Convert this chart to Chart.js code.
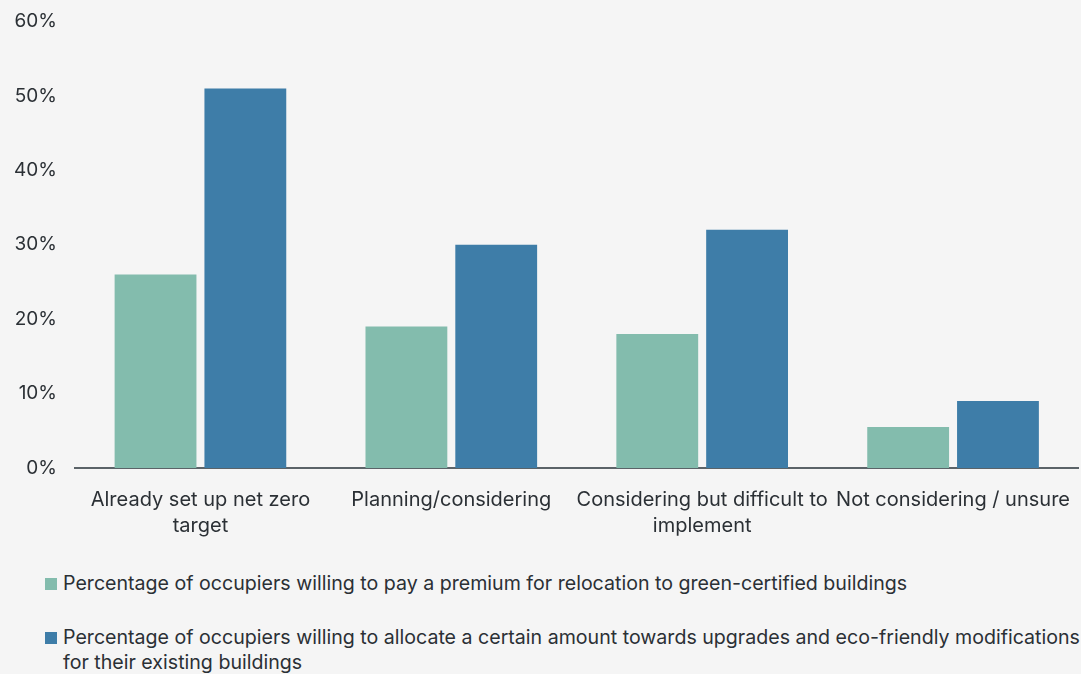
<!DOCTYPE html>
<html>
<head>
<meta charset="utf-8">
<script src="https://cdn.jsdelivr.net/npm/chart.js@4.4.0/dist/chart.umd.min.js"></script>
<style>
  html, body { margin: 0; padding: 0; background: #f5f5f5; width: 1081px; height: 674px; overflow: hidden; }
  #wrap { position: relative; width: 1081px; height: 550px; }
  #legend { position: absolute; left: 45px; top: 571px; width: 1036px; font-family: Inter, "Noto Sans", sans-serif; font-size: 19.6px; color: #2b3035; }
  .item { display: flex; align-items: flex-start; line-height: 25px; margin-bottom: 29px; }
  .sw { flex: 0 0 12px; width: 12px; height: 12px; margin-top: 7px; margin-right: 6px; }
</style>
</head>
<body>
<div id="wrap"><canvas id="c" width="1081" height="550"></canvas></div>
<div id="legend"></div>
<script>
const categories = [
  ["Already set up net zero", "target"],
  "Planning/considering",
  ["Considering but difficult to", "implement"],
  "Not considering / unsure"
];
const seriesNames = [
  "Percentage of occupiers willing to pay a premium for relocation to green-certified buildings",
  "Percentage of occupiers willing to allocate a certain amount towards upgrades and eco-friendly modifications for their existing buildings"
];
const premiumValues = [26, 19, 18, 5.5];
const upgradeValues = [51, 30, 32, 9];
const seriesColors = ["#83bcad", "#3e7da8"];
const yTicks = [0, 10, 20, 30, 40, 50, 60];

const textColor = "#2b3035";
const fontFamily = "Inter, 'Noto Sans', sans-serif";

new Chart(document.getElementById("c"), {
  type: "bar",
  data: {
    labels: categories,
    datasets: [
      { label: seriesNames[0], data: premiumValues, backgroundColor: seriesColors[0], categoryPercentage: 0.716, barPercentage: 0.911 },
      { label: seriesNames[1], data: upgradeValues, backgroundColor: seriesColors[1], categoryPercentage: 0.716, barPercentage: 0.911 }
    ]
  },
  options: {
    responsive: false,
    animation: false,
    layout: { padding: { top: 10, right: 0, left: 0, bottom: 0 } },
    plugins: { legend: { display: false }, tooltip: { enabled: false } },
    scales: {
      x: {
        grid: { display: false },
        border: { display: true, color: "#5b6368", width: 2 },
        ticks: { color: textColor, font: { family: fontFamily, size: 20, lineHeight: 1.3 }, padding: 11, maxRotation: 0, autoSkip: false }
      },
      y: {
        min: 0, max: 60,
        afterBuildTicks: (s) => { s.ticks = yTicks.map(v => ({ value: v })); },
        afterFit: (s) => { s.width = 75; },
        grid: { display: false },
        border: { display: false },
        ticks: { color: textColor, font: { family: fontFamily, size: 19 }, padding: 10, callback: (v) => v + "%" }
      }
    }
  }
});

const legend = document.getElementById("legend");
seriesNames.forEach((name, i) => {
  const item = document.createElement("div");
  item.className = "item";
  const sw = document.createElement("span");
  sw.className = "sw";
  sw.style.background = seriesColors[i];
  const tx = document.createElement("span");
  tx.textContent = name;
  item.appendChild(sw);
  item.appendChild(tx);
  legend.appendChild(item);
});
</script>
</body>
</html>
